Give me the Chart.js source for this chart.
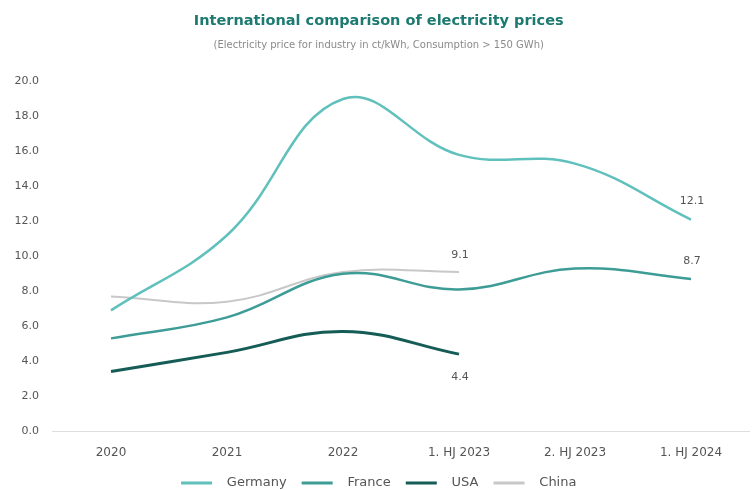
<!DOCTYPE html>
<html>
<head>
<meta charset="utf-8">
<script src="https://cdn.jsdelivr.net/npm/chart.js@4.4.1/dist/chart.umd.min.js"></script>
<style>
  html, body { margin: 0; padding: 0; background: #ffffff; }
  #wrap { width: 753px; height: 490px; }
</style>
</head>
<body>
<div id="wrap"><canvas id="chart" width="753" height="490"></canvas></div>
<script>
// Periods on the x axis
const categories = ['2020', '2021', '2022', '1. HJ 2023', '2. HJ 2023', '1. HJ 2024'];

// Industrial electricity price, ct/kWh
const germany = [6.9, 11.2, 19.0, 15.8, 15.3, 12.1];
const france  = [5.3, 6.5, 9.0, 8.1, 9.3, 8.7];
const usa     = [3.4, 4.5, 5.7, 4.4, null, null];
const china   = [7.7, 7.4, 9.1, 9.1, null, null];

// Y axis ticks
const yTicks = [0, 2, 4, 6, 8, 10, 12, 14, 16, 18, 20];

// Values written beside the last point of a series
const endLabels = [
  { series: 0, index: 5, text: '12.1', dy: -18 },
  { series: 1, index: 5, text: '8.7', dy: -18 },
  { series: 3, index: 3, text: '9.1', dy: -17 },
  { series: 2, index: 3, text: '4.4', dy: 23 }
];

const FONT = '"DejaVu Sans", "Noto Sans", sans-serif';

const valueLabels = {
  id: 'valueLabels',
  afterDatasetsDraw(chart) {
    const ctx = chart.ctx;
    const x = chart.scales.x, y = chart.scales.y;
    ctx.save();
    ctx.font = '11px ' + FONT;
    ctx.fillStyle = '#555555';
    ctx.textAlign = 'center';
    ctx.textBaseline = 'middle';
    endLabels.forEach(l => {
      const v = chart.data.datasets[l.series].data[l.index];
      ctx.fillText(l.text, x.getPixelForValue(l.index) + 1, y.getPixelForValue(v) + l.dy);
    });
    ctx.restore();
  }
};

function series(label, data, color, width) {
  return {
    label, data,
    borderColor: color,
    backgroundColor: color,
    borderWidth: width,
    pointRadius: 0,
    tension: 0.4,
    fill: false,
    spanGaps: false
  };
}

new Chart(document.getElementById('chart'), {
  type: 'line',
  data: {
    labels: categories,
    datasets: [
      series('Germany', germany, '#60c0bc', 2.5),
      series('France', france, '#3e9c96', 2.5),
      series('USA', usa, '#145c55', 3),
      series('China', china, '#c8c8c8', 2)
    ]
  },
  options: {
    responsive: false,
    animation: false,
    layout: { padding: { left: 8.5, right: 4, top: 0, bottom: -9.5 } },
    plugins: {
      title: {
        display: true,
        text: 'International comparison of electricity prices',
        color: '#1d7a71',
        font: { family: FONT, size: 14.5, weight: 'bold' },
        padding: { top: 13, bottom: 0 }
      },
      subtitle: {
        display: true,
        text: '(Electricity price for industry in ct/kWh, Consumption > 150 GWh)',
        color: '#8a8a8a',
        font: { family: FONT, size: 10 },
        padding: { top: 8.6, bottom: 30.5 }
      },
      legend: {
        position: 'bottom',
        labels: {
          boxWidth: 31,
          boxHeight: 3,
          color: '#555555',
          font: { family: FONT, size: 13 },
          padding: 15.1,
          generateLabels(chart) {
            // thin line swatches, text set a little apart from the swatch
            return Chart.defaults.plugins.legend.labels.generateLabels(chart)
              .map(item => Object.assign(item, { lineWidth: 0, text: '  ' + item.text }));
          }
        }
      },
      tooltip: { enabled: false }
    },
    scales: {
      x: {
        offset: true,
        grid: { display: false },
        border: { display: true, color: '#dedede', dash: [2, 2] },
        ticks: { color: '#555555', font: { family: FONT, size: 12 }, padding: 6.5 },
        afterFit(axis) { axis.height -= 5; }
      },
      y: {
        min: 0,
        max: 20,
        afterBuildTicks(axis) { axis.ticks = yTicks.map(v => ({ value: v })); },
        grid: { display: false },
        border: { display: false },
        ticks: {
          color: '#555555',
          font: { family: FONT, size: 11 },
          padding: 6,
          callback: v => Number(v).toFixed(1)
        }
      }
    }
  },
  plugins: [valueLabels]
});
</script>
</body>
</html>
